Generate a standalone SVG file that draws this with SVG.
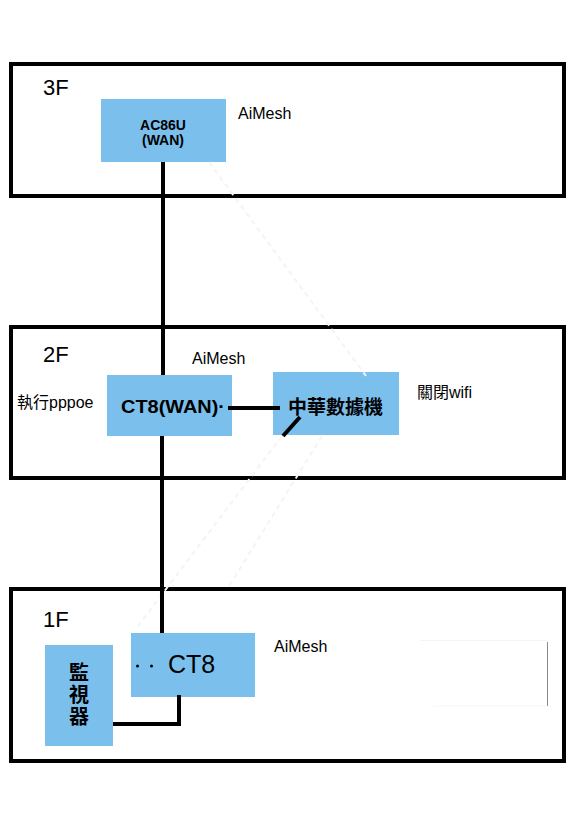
<svg xmlns="http://www.w3.org/2000/svg" width="576" height="819" viewBox="0 0 576 819">
<style>
.floor{fill:none;stroke:#000;stroke-width:4}
.dev{fill:#7bbfec}
.t{font-family:"Liberation Sans","Noto Sans CJK TC",sans-serif;fill:#000}
.b{font-weight:bold}
.cjk{font-family:"Noto Sans CJK TC","Liberation Sans",sans-serif;font-weight:bold;fill:#000}
.wire{fill:none;stroke:#000;stroke-width:4}
.faint{fill:none;stroke:#f4f4f4;stroke-width:2;stroke-dasharray:5 4}
</style>
<rect width="576" height="819" fill="#fff"/>
<g id="floor3F">
<rect class="floor" x="11" y="64" width="553" height="132"/>
<text class="t" x="43" y="95" font-size="22">3F</text>
</g>
<g id="floor2F">
<rect class="floor" x="11" y="327" width="553" height="151"/>
<text class="t" x="43" y="362" font-size="22">2F</text>
<text class="t" x="17" y="408" font-size="16">執行pppoe</text>
<text class="t" x="417" y="398" font-size="16">關閉wifi</text>
</g>
<g id="floor1F">
<rect class="floor" x="11" y="589" width="553" height="172"/>
<text class="t" x="43" y="627" font-size="22">1F</text>
<path d="M420 640.5H547.5V706H433" fill="none" stroke="#f2f5f8" stroke-width="1"/>
<line x1="547.5" y1="642" x2="547.5" y2="706" stroke="#8a8a8a" stroke-width="1"/>
</g>
<g id="ac86u">
<rect class="dev" x="101" y="99" width="125" height="63"/>
<text class="t b" x="163" y="130" font-size="14" text-anchor="middle">AC86U</text>
<text class="t b" x="163" y="145" font-size="14" text-anchor="middle">(WAN)</text>
<text class="t" x="238" y="119" font-size="16">AiMesh</text>
</g>
<g id="ct8wan">
<rect class="dev" x="107" y="375" width="125" height="61"/>
<text class="t b" x="121" y="413" font-size="18" textLength="104" lengthAdjust="spacingAndGlyphs">CT8(WAN)·</text>
<text class="t" x="192" y="364" font-size="16">AiMesh</text>
</g>
<g id="modem">
<rect class="dev" x="273" y="372" width="126" height="63"/>
<text class="cjk" x="288" y="414" font-size="19">中華數據機</text>
</g>
<g id="ct8">
<rect class="dev" x="131" y="633" width="124" height="64"/>
<circle cx="137.5" cy="666" r="1.5" fill="#000"/>
<circle cx="151.5" cy="666" r="1.5" fill="#000"/>
<text class="t" x="168" y="673" font-size="25">CT8</text>
<text class="t" x="274" y="652" font-size="16">AiMesh</text>
</g>
<g id="monitor">
<rect class="dev" x="45" y="645" width="68" height="101"/>
<text class="cjk" x="79" y="662" font-size="20" writing-mode="vertical-rl" letter-spacing="2">監視器</text>
</g>
<g id="connectors">
<line class="faint" x1="209" y1="162" x2="366" y2="376"/>
<line class="faint" x1="322" y1="436" x2="228" y2="588"/>
<line class="faint" x1="282" y1="436" x2="135" y2="630"/>
<line class="wire" x1="163" y1="162" x2="163" y2="375"/>
<line class="wire" x1="162" y1="436" x2="162" y2="633"/>
<line class="wire" x1="228" y1="408" x2="280" y2="408" stroke-width="5"/>
<line class="wire" x1="300" y1="417" x2="283" y2="436"/>
<polyline class="wire" points="113,724 179,724 179,695"/>
</g>
</svg>
